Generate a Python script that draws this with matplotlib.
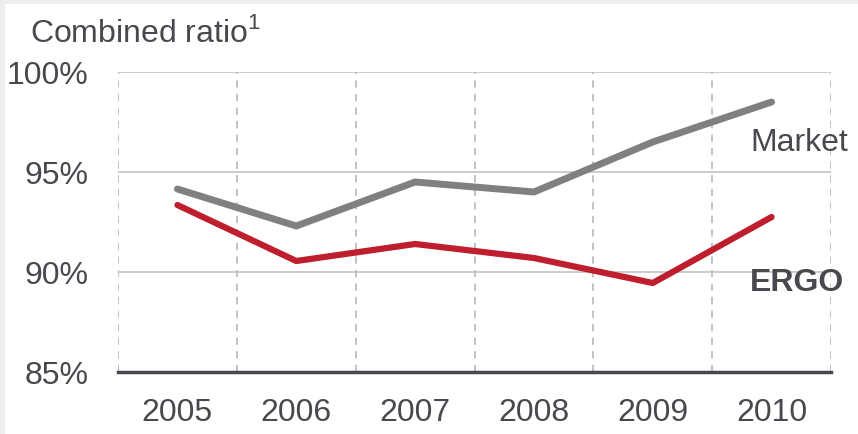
import matplotlib.pyplot as plt
from matplotlib.patches import Rectangle

plt.rcParams['font.family'] = ['Liberation Sans', 'DejaVu Sans']
plt.rcParams['mathtext.fontset'] = 'custom'
plt.rcParams['mathtext.rm'] = 'Liberation Sans'

years = ['2005', '2006', '2007', '2008', '2009', '2010']
market = [94.15, 92.3, 94.5, 94.0, 96.5, 98.5]
ergo = [93.35, 90.55, 91.4, 90.7, 89.45, 92.75]
yticks = [85, 90, 95, 100]

txt = '#48484e'
fs = 23
W, H = 858, 434
fig = plt.figure(figsize=(W / 100, H / 100), dpi=100)
fig.patch.set_facecolor('#eeeeee')
fig.patches.append(Rectangle((5 / W, 0), 1, 1 - 4 / H, transform=fig.transFigure,
                             facecolor='white', edgecolor='none', zorder=-5))

ax = fig.add_axes([118 / W, (H - 372) / H, (831 - 118) / W, 300 / H])
ax.set_facecolor('none')

x = list(range(len(years)))
ax.plot(x, market, color='#808080', lw=5, solid_capstyle='round', zorder=3)
ax.plot(x, ergo, color='#be1e2d', lw=4.5, solid_capstyle='round', zorder=3)

ax.set_xlim(-0.5, len(years) - 0.5)
ax.set_ylim(85, 100)

# horizontal gridlines
for v in yticks[1:]:
    ax.axhline(v, color='#c8c8c8', lw=1.3, zorder=1)
# vertical dashed separators
for b in range(len(years) + 1):
    ax.axvline(b - 0.5, color='#bdbdbd', lw=1.3, ls=(0, (4, 3.5)), zorder=1)

for s in ['top', 'right', 'left']:
    ax.spines[s].set_visible(False)
ax.spines['bottom'].set_color('#48484e')
ax.spines['bottom'].set_linewidth(2.5)
ax.spines['bottom'].set_zorder(4)

ax.set_xticks(x)
ax.set_xticklabels(years)
ax.set_yticks(yticks)
ax.set_yticklabels([f'{v}%' for v in yticks])
ax.tick_params(axis='both', length=0, labelsize=fs, colors=txt)
ax.tick_params(axis='x', pad=19)
ax.tick_params(axis='y', pad=21)

ax.text(4.82, 96.45, 'Market', fontsize=fs, color=txt, ha='left', va='center')
ax.text(4.82, 89.45, 'ERGO', fontsize=fs, color=txt, ha='left', va='center',
        fontweight='bold')

fig.text(30 / W, 1 - 33 / H, 'Combined ratio$^{1}$', fontsize=fs, color=txt,
         ha='left', va='center')

fig.savefig('out.png', dpi=100, facecolor=fig.get_facecolor())
